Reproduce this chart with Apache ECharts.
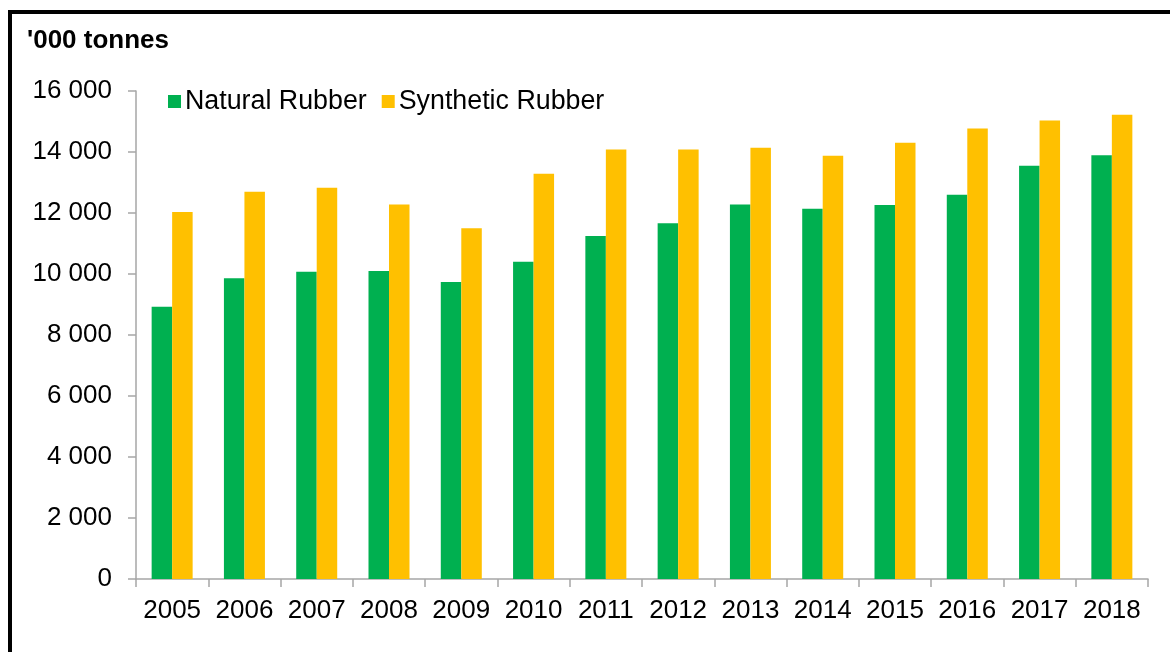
<!DOCTYPE html>
<html>
<head>
<meta charset="utf-8">
<script src="https://cdn.jsdelivr.net/npm/echarts@6/dist/echarts.min.js"></script>
<style>
html,body{margin:0;padding:0;background:#fff;}
#chart{width:1170px;height:652px;}
</style>
</head>
<body>
<div id="chart"></div>
<script>
const years = ['2005','2006','2007','2008','2009','2010','2011','2012','2013','2014','2015','2016','2017','2018'];
const naturalRubber = [8930, 9860, 10070, 10100, 9740, 10400, 11250, 11660, 12280, 12140, 12260, 12600, 13550, 13890];
const syntheticRubber = [12030, 12700, 12830, 12280, 11500, 13290, 14080, 14080, 14140, 13880, 14300, 14770, 15030, 15220];
const yTicks = [0, 2000, 4000, 6000, 8000, 10000, 12000, 14000, 16000];

const chart = echarts.init(document.getElementById('chart'));
const font = 'Liberation Sans, Arial, sans-serif';
chart.setOption({
  animation: false,
  backgroundColor: '#fff',
  textStyle: {fontFamily: font},
  graphic: [
    {type: 'rect', shape: {x: 10, y: 12, width: 1250, height: 750},
     style: {fill: 'none', stroke: '#000', lineWidth: 4}, z: 100},
    {type: 'text', left: 27, top: 28,
     style: {text: "'000 tonnes", font: 'bold 26px Liberation Sans, Arial, sans-serif', fill: '#000'}}
  ],
  legend: {
    left: 163, top: 83,
    itemWidth: 13, itemHeight: 13, itemGap: 15,
    icon: 'rect',
    textStyle: {fontSize: 26.8, color: '#000', fontFamily: font, padding: [0,0,0,-1]},
    data: ['Natural Rubber', 'Synthetic Rubber']
  },
  grid: {left: 136, right: 22, top: 91, bottom: 73, containLabel: false},
  xAxis: {
    type: 'category',
    data: years,
    axisLine: {lineStyle: {color: '#a6a6a6', width: 1.5}},
    axisTick: {show: true, length: 8, lineStyle: {color: '#a6a6a6', width: 1.5}},
    axisLabel: {color: '#000', fontSize: 26, margin: 19, fontFamily: font, interval: 0}
  },
  yAxis: {
    type: 'value',
    min: 0, max: 16000, interval: 2000,
    axisLine: {show: true, lineStyle: {color: '#a6a6a6', width: 1.5}},
    axisTick: {show: true, length: 8, lineStyle: {color: '#a6a6a6', width: 1.5}},
    splitLine: {show: false},
    axisLabel: {
      color: '#000', fontSize: 26, margin: 24, fontFamily: font,
      formatter: function (v) {
        if (yTicks.indexOf(v) < 0) return '';
        return String(v).replace(/\B(?=(\d{3})+(?!\d))/g, ' ');
      }
    }
  },
  series: [
    {name: 'Natural Rubber', type: 'bar', data: naturalRubber, barWidth: 20.5, barGap: '0%',
     itemStyle: {color: '#00B050'}},
    {name: 'Synthetic Rubber', type: 'bar', data: syntheticRubber, barWidth: 20.5, barGap: '0%',
     itemStyle: {color: '#FFC000'}}
  ]
});
</script>
</body>
</html>
